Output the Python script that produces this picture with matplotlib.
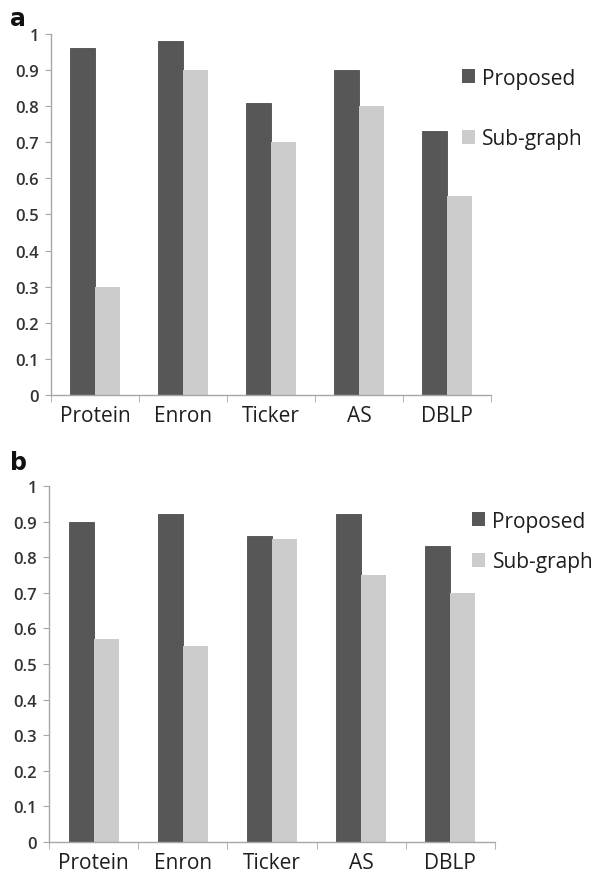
import matplotlib
matplotlib.use("Agg")
import matplotlib.pyplot as plt
from matplotlib.ticker import FixedLocator
from matplotlib.patches import Patch
import numpy as np

categories = ["Protein", "Enron", "Ticker", "AS", "DBLP"]
series_names = ["Proposed", "Sub-graph"]
proposed_a = [0.96, 0.98, 0.81, 0.90, 0.73]
subgraph_a = [0.30, 0.90, 0.70, 0.80, 0.55]
proposed_b = [0.90, 0.92, 0.86, 0.92, 0.83]
subgraph_b = [0.57, 0.55, 0.85, 0.75, 0.70]
yticks = [0, 0.1, 0.2, 0.3, 0.4, 0.5, 0.6, 0.7, 0.8, 0.9, 1.0]

DARK = "#575757"
LIGHT = "#cccccc"
AXC = "#a6a6a6"
TXT = "#1e1e1e"

plt.rcParams['font.family'] = ['Open Sans', 'DejaVu Sans']

fig = plt.figure(figsize=(5.94, 8.79), dpi=100)

def panel(rect, prop, sub, letter, letter_pos, legend_anchor, lspace):
    ax = fig.add_axes(rect)
    x = np.arange(len(categories))
    w = 0.28
    ax.bar(x - w/2, prop, width=w, color=DARK, edgecolor="#3a3a3a", linewidth=0.5)
    ax.bar(x + w/2, sub, width=w, color=LIGHT, linewidth=0)
    ax.set_xlim(-0.5, len(categories) - 0.5)
    ax.set_ylim(0, 1)
    for s in ["top", "right"]:
        ax.spines[s].set_visible(False)
    for s in ["left", "bottom"]:
        ax.spines[s].set_color(AXC)
        ax.spines[s].set_linewidth(1.0)
    ax.set_yticks(yticks)
    ax.set_yticklabels(["%g" % v for v in yticks], fontsize=12, color="#333333",
                       fontweight="semibold")
    ax.tick_params(axis="y", length=4.5, color=AXC, pad=4)
    ax.set_xticks(x)
    ax.set_xticklabels(categories, fontsize=15, color=TXT)
    ax.tick_params(axis="x", length=0, pad=7)
    ax.xaxis.set_minor_locator(FixedLocator(np.arange(-0.5, len(categories), 1.0)))
    ax.tick_params(axis="x", which="minor", length=5, color=AXC)
    fig.text(letter_pos[0], letter_pos[1], letter, fontsize=17, fontweight="bold",
             family="DejaVu Sans", ha="left", va="top", color="#111111")
    handles = [Patch(facecolor=DARK, edgecolor="none"), Patch(facecolor=LIGHT, edgecolor="none")]
    fig.legend(handles, series_names, loc="upper left", bbox_to_anchor=legend_anchor,
               frameon=False, fontsize=15, handlelength=0.65, handleheight=0.65,
               handletextpad=0.35, labelspacing=lspace, labelcolor=TXT,
               borderaxespad=0, borderpad=0)
    return ax

panel([0.0859, 0.5495, 0.7407, 0.4107], proposed_a, subgraph_a, "a", (0.016, 0.992), (0.777, 0.922), 1.9)
panel([0.0825, 0.0410, 0.7508, 0.4050], proposed_b, subgraph_b, "b", (0.016, 0.487), (0.794, 0.418), 0.95)

fig.savefig("out.png", dpi=100)
